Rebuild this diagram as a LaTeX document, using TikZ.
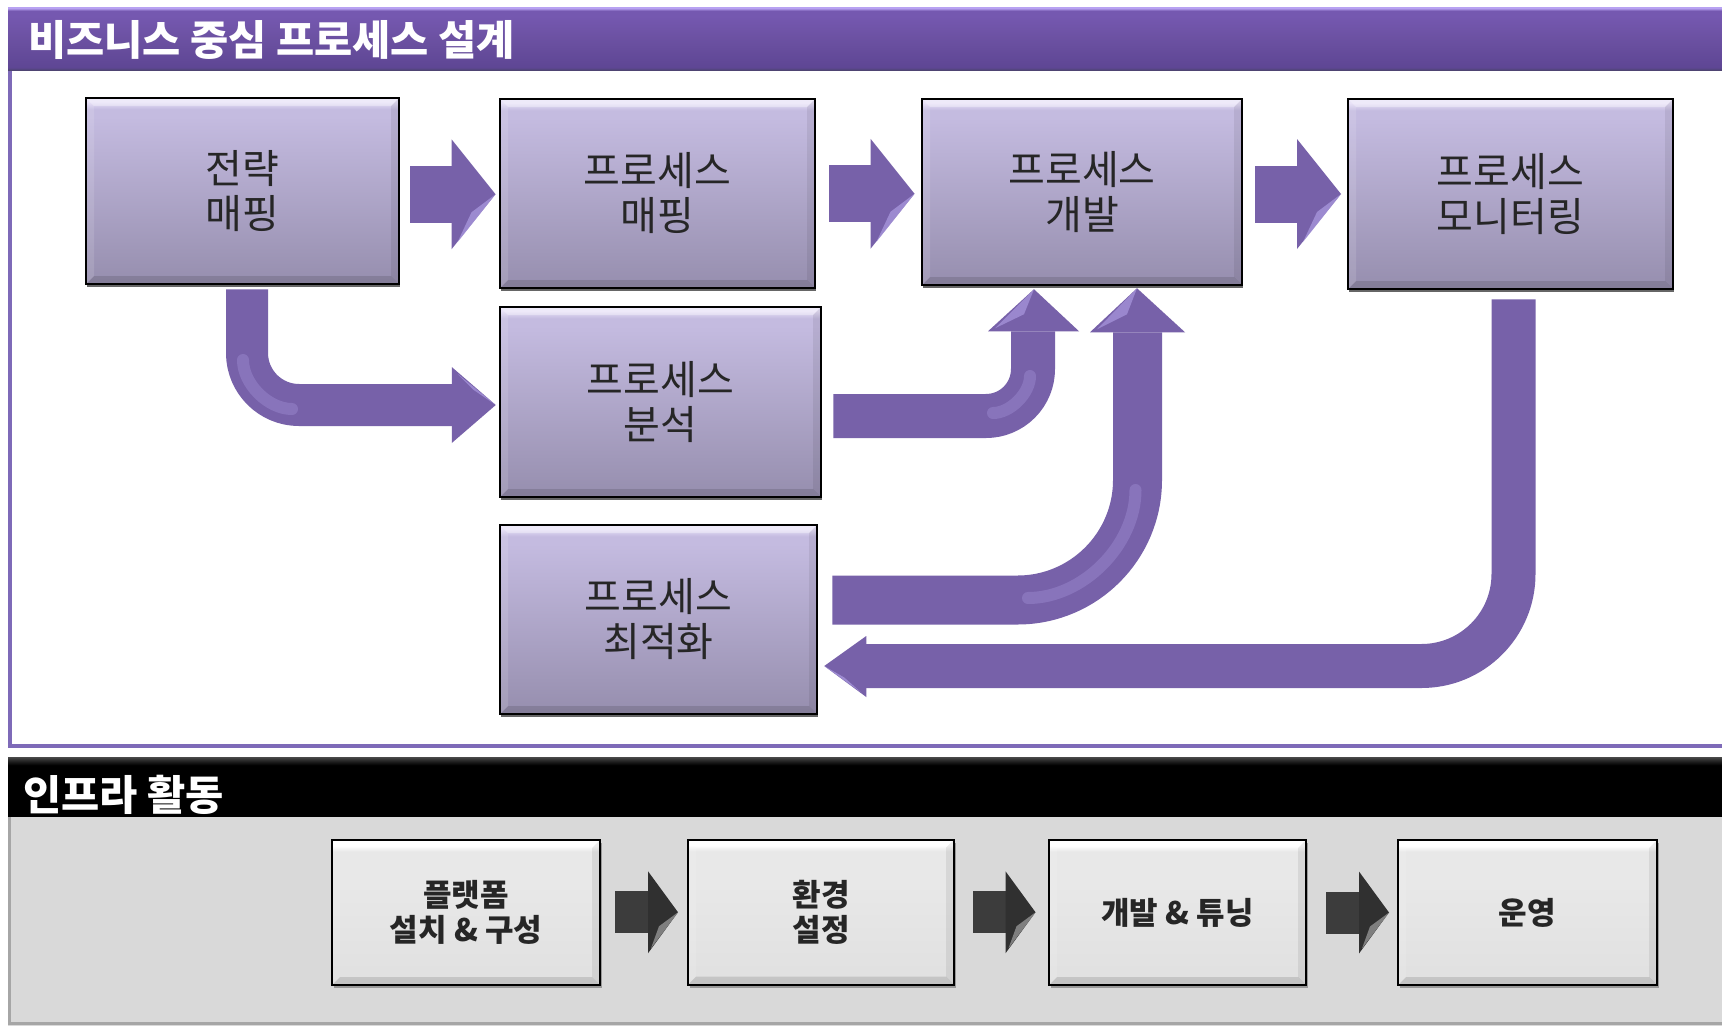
\documentclass[tikz,border=0pt]{standalone}
\usepackage{fontspec}
\setmainfont{Noto Sans CJK KR}
\usetikzlibrary{calc,shadows}

\definecolor{parr}{HTML}{7761A9}
\definecolor{parrL}{HTML}{A998DE}
\definecolor{frameP}{HTML}{7E6AB8}
\definecolor{barTop}{HTML}{B8A2F2}
\definecolor{barMid}{HTML}{7558B0}
\definecolor{barBot}{HTML}{5E4694}
\definecolor{barEdge}{HTML}{4E4472}
\definecolor{pbT}{HTML}{C4BBE0}
\definecolor{pbB}{HTML}{968EAE}
\definecolor{pbW}{HTML}{E6DFF7}
\definecolor{gbT}{HTML}{E8E8E8}
\definecolor{gbB}{HTML}{E0E0E0}
\definecolor{greyBg}{HTML}{D9D9D9}
\definecolor{darrC}{HTML}{3C3C3C}
\definecolor{textD}{HTML}{262626}
\definecolor{blkTop}{HTML}{4A4A4A}

\pgfdeclareverticalshading{pboxsh}{100bp}{color(0bp)=(pbB); color(25bp)=(pbB); color(70bp)=(pbT); color(72bp)=(pbT); color(74bp)=(pbW); color(75bp)=(pbW); color(100bp)=(pbW)}
\pgfdeclareverticalshading{gboxsh}{100bp}{color(0bp)=(gbB); color(25bp)=(gbB); color(60bp)=(gbT); color(71bp)=(gbT); color(73bp)=(white); color(75bp)=(white); color(100bp)=(white)}
\pgfdeclareverticalshading{barsh}{100bp}{color(0bp)=(barEdge); color(25bp)=(barEdge); color(27bp)=(barBot); color(50bp)=(barMid!92!black); color(68bp)=(barMid); color(72bp)=(barMid); color(74bp)=(barTop); color(75bp)=(barTop); color(100bp)=(barTop)}
\pgfdeclareverticalshading{blksh}{100bp}{color(0bp)=(black); color(25bp)=(black); color(68bp)=(black); color(72bp)=(black!85); color(75bp)=(blkTop); color(100bp)=(blkTop)}

\tikzset{
  bevel/.style={path picture={
    \fill[white,opacity=.35] (path picture bounding box.north west) -- (path picture bounding box.north east)
      -- ([xshift=-8pt,yshift=-8pt]path picture bounding box.north east) -- ([xshift=8pt,yshift=-8pt]path picture bounding box.north west) -- cycle;
    \fill[black,opacity=.12] (path picture bounding box.south west) -- (path picture bounding box.south east)
      -- ([xshift=-8pt,yshift=8pt]path picture bounding box.south east) -- ([xshift=8pt,yshift=8pt]path picture bounding box.south west) -- cycle;
    \fill[white,opacity=.12] (path picture bounding box.north west) -- (path picture bounding box.south west)
      -- ([xshift=8pt,yshift=8pt]path picture bounding box.south west) -- ([xshift=8pt,yshift=-8pt]path picture bounding box.north west) -- cycle;
    \fill[black,opacity=.07] (path picture bounding box.north east) -- (path picture bounding box.south east)
      -- ([xshift=-8pt,yshift=8pt]path picture bounding box.south east) -- ([xshift=-8pt,yshift=-8pt]path picture bounding box.north east) -- cycle;
  }},
  pbox/.style={draw=black, line width=2.5pt, shading=pboxsh, bevel, inner sep=0pt,
    text=textD, align=center, font={\fontsize{40pt}{45pt}\selectfont},
    drop shadow={shadow xshift=1pt, shadow yshift=-3pt, fill=black!60, opacity=1}},
  gbox/.style={draw=black, line width=2pt, shading=gboxsh, bevel, inner sep=0pt,
    minimum height=145pt, text=textD, align=center, font={\bfseries\fontsize{31pt}{35pt}\selectfont},
    drop shadow={shadow xshift=2pt, shadow yshift=-3pt, fill=black!40, opacity=1}},
  pshaft/.style={draw=parr, line cap=butt, line join=round},
  streak/.style={draw=parrL, line width=12pt, opacity=.35, line cap=round},
  purplearrow/.pic={
    \fill[parr] (-40,-28.5) rectangle (3,28.5);
    \fill[parr] (2,-55) -- (46,0) -- (2,55) -- cycle;
    \fill[parrL,opacity=.75] (46,0) -- (8,48) -- (22,18) -- cycle;
  },
  greyarrow/.pic={
    \fill[darrC] (-29,-21) rectangle (5,21);
    \fill[darrC!80!black] (4,-41) -- (34,0) -- (4,41) -- cycle;
    \fill[gray!85,opacity=.8] (34,0) -- (7,36) -- (15,14) -- cycle;
  },
  titlefont/.style={text=white, font={\bfseries\fontsize{41.5pt}{46pt}\selectfont}, inner sep=0pt, anchor=west}
}

\begin{document}
\begin{tikzpicture}[x=1pt,y=-1pt]
\useasboundingbox (0,0) rectangle (1722,1026);
\clip (0,0) rectangle (1722,1026);
\fill[white] (0,0) rectangle (1722,1026);

% ---------- upper panel ----------
\draw[frameP, line width=4pt] (10,60) -- (10,746) -- (1740,746);
\path[shading=barsh] (8,7) rectangle (1740,70);
\node[titlefont] (t1) at (28,40) {비즈니스 중심 프로세스 설계};

\node[pbox, minimum width=313pt, minimum height=186pt] (s)  at (242.5,191)  {전략\\매핑};
\node[pbox, minimum width=315pt, minimum height=189pt] (pm) at (657.5,193.5) {프로세스\\매핑};
\node[pbox, minimum width=320pt, minimum height=186pt] (pd) at (1082,192)   {프로세스\\개발};
\node[pbox, minimum width=325pt, minimum height=190pt] (mo) at (1510.5,194)  {프로세스\\모니터링};
\node[pbox, minimum width=321pt, minimum height=190pt] (an) at (660.5,402)  {프로세스\\분석};
\node[pbox, minimum width=317pt, minimum height=189pt] (op) at (658.5,619.5) {프로세스\\최적화};

% straight arrows
\pic (a1) at ($(s.east)!0.5!(pm.west)+(0,2)$) {purplearrow};
\pic (a2) at ($(pm.east)!0.5!(pd.west)+(0,1)$) {purplearrow};
\pic (a3) at ($(pd.east)!0.5!(mo.west)+(0,1)$) {purplearrow};

% strategy -> analysis
\draw[pshaft, line width=42pt, rounded corners=52pt] ($(s.south)+(4.5,4)$) |- ($(an.west)+(-46,3)$);
\fill[parr] ($(an.west)+(-47,-35)$) -- ($(an.west)+(-3,3)$) -- ($(an.west)+(-47,41)$) -- cycle;
\fill[parrL,opacity=.7] ($(an.west)+(-3,3)$) -- ($(an.west)+(-41,-28)$) -- ($(an.west)+(-25,-12)$) -- cycle;
\draw[streak] (243,360) .. controls (243,383.9) and (268.1,409) .. (292,409);

% analysis -> development
\draw[pshaft, line width=44pt, rounded corners=47pt] ($(an.east)+(11,14)$) -| ($(pd.south)+(-49,45)$);
\fill[parr] ($(pd.south)+(-94,45)$) -- ($(pd.south)+(-48,3)$) -- ($(pd.south)+(-3,45)$) -- cycle;
\fill[parrL,opacity=.7] ($(pd.south)+(-48,3)$) -- ($(pd.south)+(-87,42)$) -- ($(pd.south)+(-58,28)$) -- cycle;
\draw[streak] (993,413) .. controls (1010.3,413) and (1030,393.3) .. (1030,376);

% optimization -> development
\draw[pshaft, line width=49pt, rounded corners=120pt] ($(op.east)+(14,-19.5)$) -| ($(pd.south)+(55.5,46)$);
\fill[parr] ($(pd.south)+(8,46)$) -- ($(pd.south)+(55,2)$) -- ($(pd.south)+(103,46)$) -- cycle;
\fill[parrL,opacity=.7] ($(pd.south)+(55,2)$) -- ($(pd.south)+(15,43)$) -- ($(pd.south)+(45,28)$) -- cycle;
\draw[streak] (1028,598) .. controls (1082.7,598) and (1135.5,545.2) .. (1135.5,490);

% monitoring -> optimization
\draw[pshaft, line width=44pt, rounded corners=92pt] ($(mo.south)+(3,9)$) |- ($(op.east)+(47,46.5)$);
\fill[parr] ($(op.east)+(48,16.5)$) -- ($(op.east)+(6,46.5)$) -- ($(op.east)+(48,77.5)$) -- cycle;
\fill[parrL,opacity=.75] ($(op.east)+(6,46.5)$) -- ($(op.east)+(43,73)$) -- ($(op.east)+(26,58)$) -- cycle;

% ---------- lower panel ----------
\fill[greyBg] (8,816) rectangle (1740,1026);
\draw[black!35, line width=3pt] (9.5,816) -- (9.5,1023.5) -- (1740,1023.5);
\path[shading=blksh] (8,757) rectangle (1740,816);
\node[titlefont] (t2) at (23,794.5) {인프라 활동};

\node[gbox, minimum width=268pt] (b1) at (466,912.5)   {플랫폼\\설치 \& 구성};
\node[gbox, minimum width=266pt] (b2) at (821,912)     {환경\\설정};
\node[gbox, minimum width=257pt] (b3) at (1177.5,912.5) {개발 \& 튜닝};
\node[gbox, minimum width=259pt] (b4) at (1527.5,912.5) {운영};

\pic (g1) at ($(b1.east)!0.5!(b2.west)$) {greyarrow};
\pic (g2) at ($(b2.east)!0.5!(b3.west)$) {greyarrow};
\pic (g3) at ($(b3.east)!0.5!(b4.west)+(3,0)$) {greyarrow};
\end{tikzpicture}
\end{document}
